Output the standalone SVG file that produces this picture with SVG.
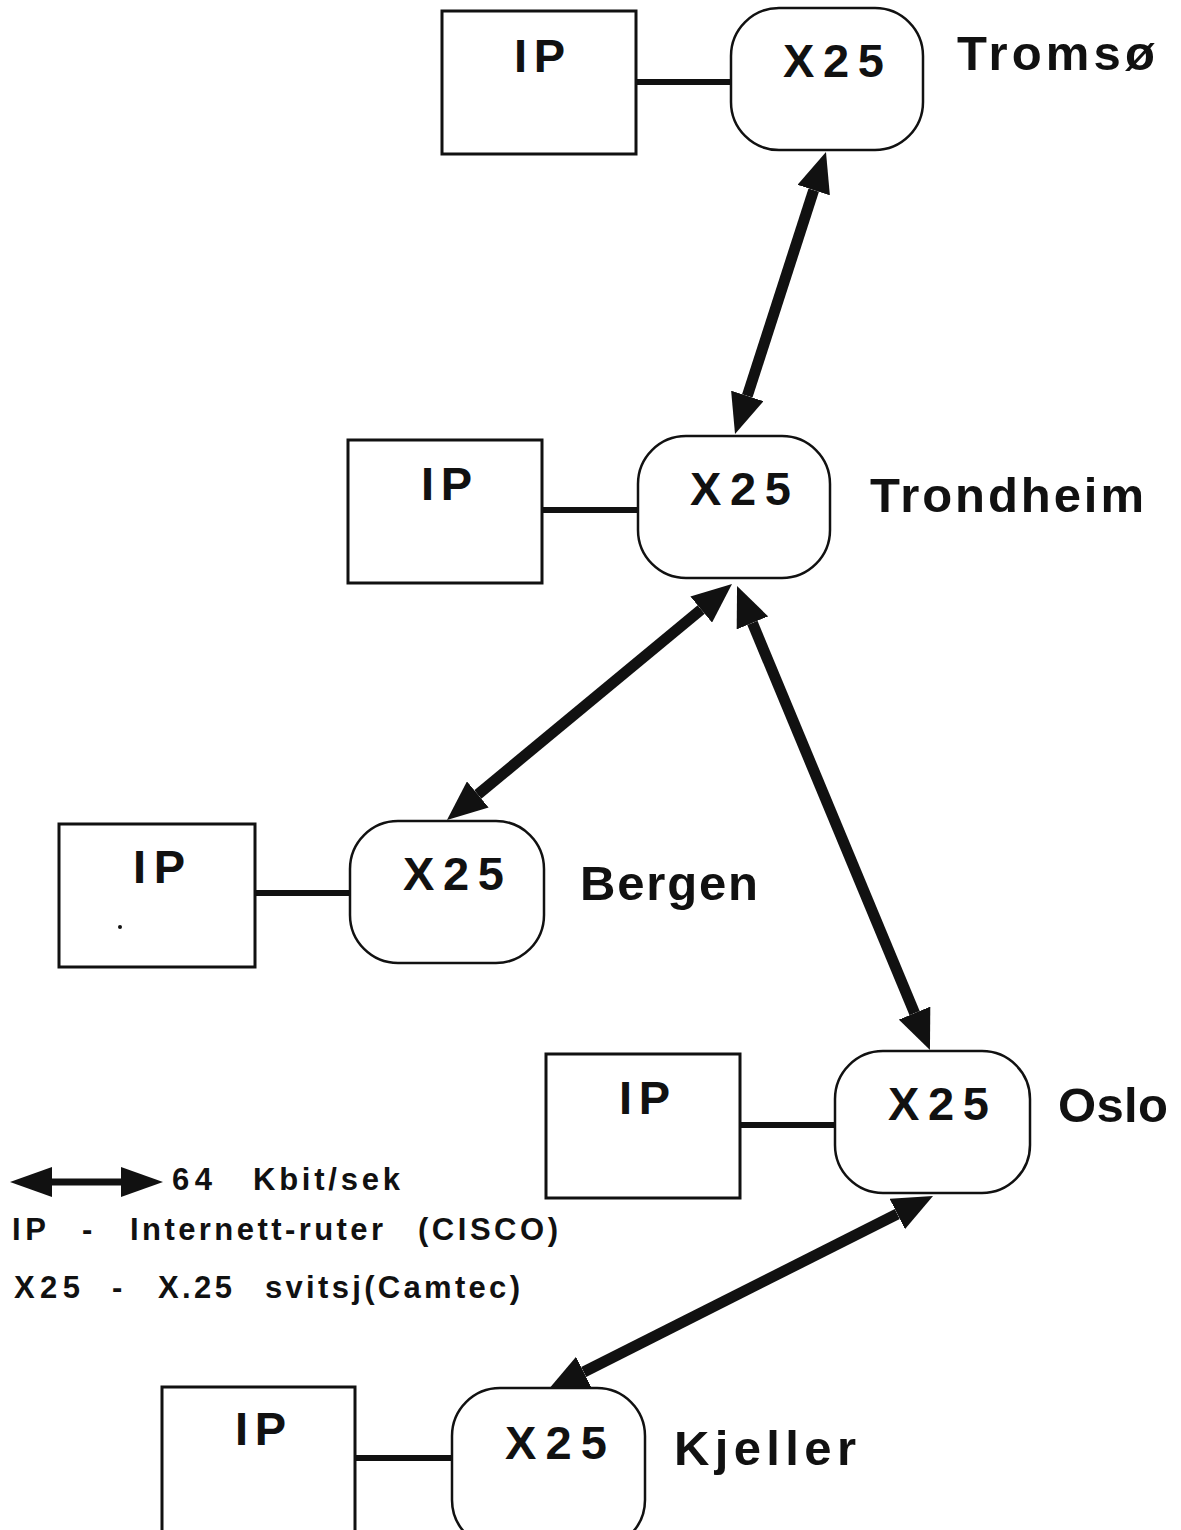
<svg xmlns="http://www.w3.org/2000/svg" width="1181" height="1530" viewBox="0 0 1181 1530">
  <style>
    .ip { fill: #fff; stroke: #111; stroke-width: 3; }
    .sw { fill: #fff; stroke: #111; stroke-width: 2.5; }
    .lbl { font-family: "Liberation Sans", Arial, sans-serif; font-weight: bold; fill: #111; }
    .node { font-size: 47px; }
    .city { font-size: 49px; }
    .leg { font-size: 31px; }
    .tie { stroke: #111; stroke-width: 6; fill: none; }
    .link { stroke: #111; stroke-width: 11; fill: none; marker-start: url(#head); marker-end: url(#head); }
  </style>
  <defs>
    <marker id="head" viewBox="0 0 40 34" refX="0" refY="17" markerWidth="40" markerHeight="34" markerUnits="userSpaceOnUse" orient="auto-start-reverse">
      <path d="M0,0 L40,17 L0,34 Z" fill="#111"/>
    </marker>
    <marker id="headS" viewBox="0 0 42 30" refX="0" refY="15" markerWidth="42" markerHeight="30" markerUnits="userSpaceOnUse" orient="auto-start-reverse">
      <path d="M0,0 L42,15 L0,30 Z" fill="#111"/>
    </marker>
  </defs>

  <!-- 64 kbit/s trunk lines between the X.25 switches -->
  <g id="links">
    <!-- Tromsø - Trondheim: tips (826,152) and (735,434) -->
    <path class="link" d="M813.7,190.1 L747.3,395.9"/>
    <!-- Trondheim - Bergen: tips (732,584) and (447,820) -->
    <path class="link" d="M701.2,609.5 L477.8,794.5"/>
    <!-- Trondheim - Oslo: tips (737,586) and (930,1050) -->
    <path class="link" d="M752.4,622.9 L914.6,1013.1"/>
    <!-- Oslo - Kjeller: tips (933,1196) and (548,1390) -->
    <path class="link" d="M897.3,1214 L583.7,1372"/>
    <!-- router to switch ties -->
    <line class="tie" x1="634" y1="82" x2="734" y2="82"/>
    <line class="tie" x1="540" y1="510" x2="641" y2="510"/>
    <line class="tie" x1="253" y1="893" x2="353" y2="893"/>
    <line class="tie" x1="738" y1="1125" x2="838" y2="1125"/>
    <line class="tie" x1="353" y1="1458" x2="455" y2="1458"/>
  </g>

  <g id="tromso">
    <rect class="ip" x="442" y="11" width="194" height="143"/>
    <text class="lbl node" x="514" y="72" textLength="51" lengthAdjust="spacing">IP</text>
    <rect class="sw" x="731" y="8" width="192" height="142" rx="48" ry="48"/>
    <text class="lbl node" x="783" y="77" textLength="101" lengthAdjust="spacing">X25</text>
    <text class="lbl city" x="957" y="70" textLength="198" lengthAdjust="spacing">Tromsø</text>
  </g>

  <g id="trondheim">
    <rect class="ip" x="348" y="440" width="194" height="143"/>
    <text class="lbl node" x="421" y="500" textLength="51" lengthAdjust="spacing">IP</text>
    <rect class="sw" x="638" y="436" width="192" height="142" rx="48" ry="48"/>
    <text class="lbl node" x="690" y="505" textLength="101" lengthAdjust="spacing">X25</text>
    <text class="lbl city" x="870" y="512" textLength="274" lengthAdjust="spacing">Trondheim</text>
  </g>

  <g id="bergen">
    <rect class="ip" x="59" y="824" width="196" height="143"/>
    <text class="lbl node" x="133" y="883" textLength="52" lengthAdjust="spacing">IP</text>
    <circle cx="120" cy="927" r="2" fill="#111"/>
    <rect class="sw" x="350" y="821" width="194" height="142" rx="48" ry="48"/>
    <text class="lbl node" x="403" y="890" textLength="101" lengthAdjust="spacing">X25</text>
    <text class="lbl city" x="580" y="900" textLength="178" lengthAdjust="spacing">Bergen</text>
  </g>

  <g id="oslo">
    <rect class="ip" x="546" y="1054" width="194" height="144"/>
    <text class="lbl node" x="619" y="1114" textLength="51" lengthAdjust="spacing">IP</text>
    <rect class="sw" x="835" y="1051" width="195" height="142" rx="48" ry="48"/>
    <text class="lbl node" x="888" y="1120" textLength="101" lengthAdjust="spacing">X25</text>
    <text class="lbl city" x="1058" y="1122" textLength="110" lengthAdjust="spacing">Oslo</text>
  </g>

  <g id="kjeller">
    <rect class="ip" x="162" y="1387" width="193" height="160"/>
    <text class="lbl node" x="235" y="1445" textLength="51" lengthAdjust="spacing">IP</text>
    <rect class="sw" x="452" y="1388" width="193" height="160" rx="48" ry="48"/>
    <text class="lbl node" x="505" y="1459" textLength="102" lengthAdjust="spacing">X25</text>
    <text class="lbl city" x="674" y="1465" textLength="182" lengthAdjust="spacing">Kjeller</text>
  </g>

  <g id="legend">
    <line x1="52" y1="1182" x2="121" y2="1182" stroke="#111" stroke-width="7" marker-start="url(#headS)" marker-end="url(#headS)"/>
    <text class="lbl leg" x="172" y="1190" textLength="40" lengthAdjust="spacing">64</text>
    <text class="lbl leg" x="253" y="1190" textLength="147" lengthAdjust="spacing">Kbit/sek</text>
    <text class="lbl leg" x="12" y="1240" textLength="34" lengthAdjust="spacing">IP</text>
    <text class="lbl leg" x="82" y="1240">-</text>
    <text class="lbl leg" x="130" y="1240" textLength="253" lengthAdjust="spacing">Internett-ruter</text>
    <text class="lbl leg" x="418" y="1240" textLength="140" lengthAdjust="spacing">(CISCO)</text>
    <text class="lbl leg" x="14" y="1298" textLength="66" lengthAdjust="spacing">X25</text>
    <text class="lbl leg" x="112" y="1298">-</text>
    <text class="lbl leg" x="158" y="1298" textLength="74" lengthAdjust="spacing">X.25</text>
    <text class="lbl leg" x="265" y="1298" textLength="255" lengthAdjust="spacing">svitsj(Camtec)</text>
  </g>
</svg>
